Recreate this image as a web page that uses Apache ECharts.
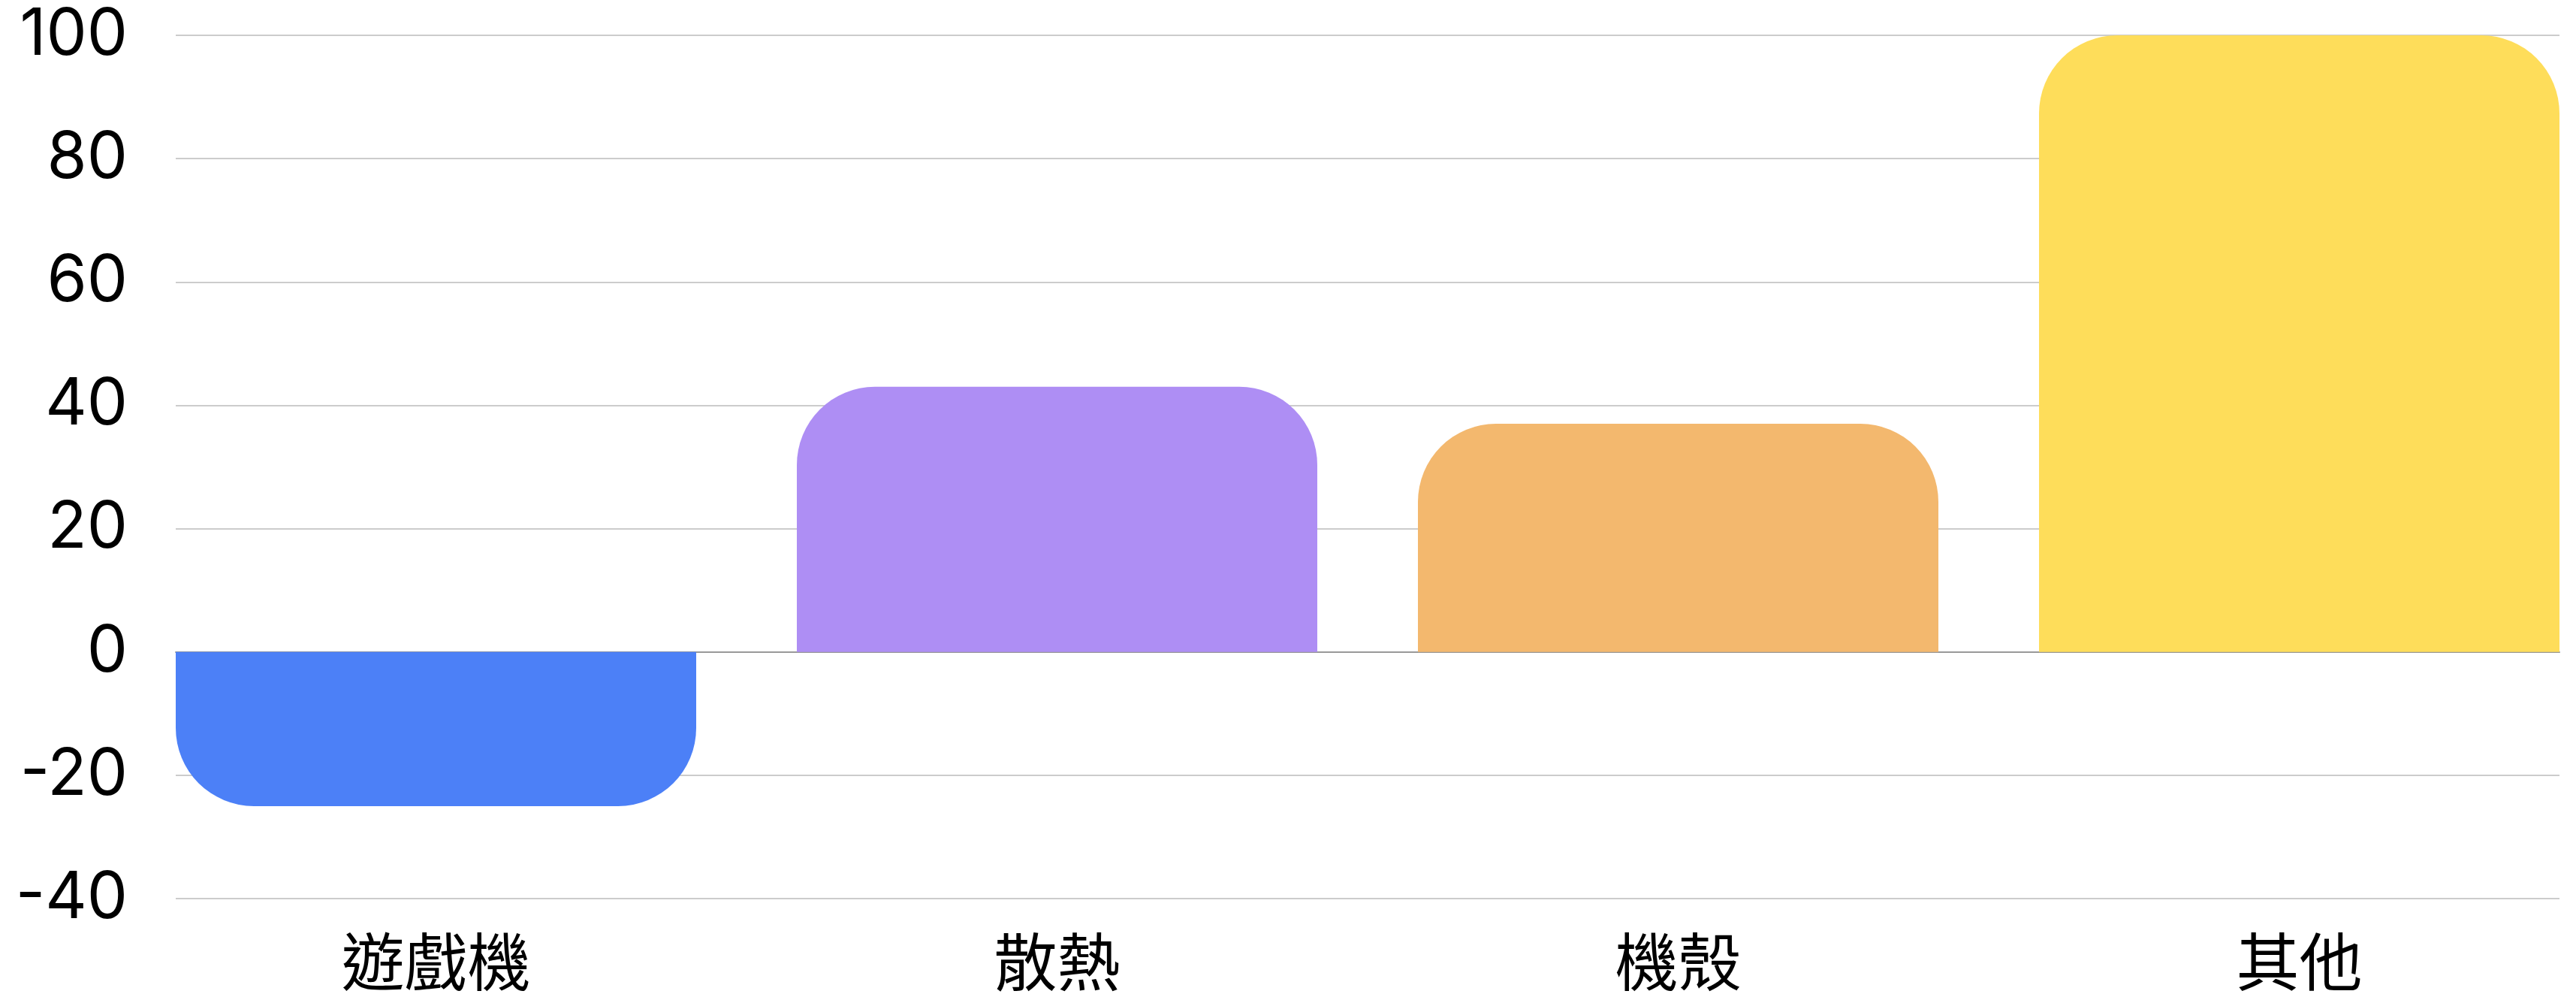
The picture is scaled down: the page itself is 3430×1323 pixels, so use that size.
<!DOCTYPE html>
<html>
<head>
<meta charset="utf-8">
<script src="https://cdn.jsdelivr.net/npm/echarts@6/dist/echarts.min.js"></script>
<style>
html,body{margin:0;padding:0;background:#fff;}
#chart{width:3430px;height:1323px;}
</style>
</head>
<body>
<div id="chart"></div>
<script>
const categories = ['遊戲機', '散熱', '機殼', '其他'];
const values = [-25, 43, 37, 100];
const barColors = ['#4C80F7', '#AE8EF4', '#F3B86E', '#FEDD5A'];
const yTicks = { min: -40, max: 100, interval: 20 };

const R = 104;
const chart = echarts.init(document.getElementById('chart'));
const data = values.map((v, i) => ({
  value: v,
  itemStyle: {
    color: barColors[i],
    borderRadius: v < 0 ? [0, 0, R, R] : [R, R, 0, 0]
  }
}));

chart.setOption({
  animation: false,
  backgroundColor: '#ffffff',
  grid: [
    { left: 234, top: 47, width: 3174, height: 1149, outerBoundsMode: 'none', containLabel: false },
    { left: 167, top: 47, width: 3308, height: 1149, outerBoundsMode: 'none', containLabel: false }
  ],
  xAxis: [
    {
      gridIndex: 0, type: 'category', data: categories,
      axisLine: { show: true, onZero: true, lineStyle: { color: '#999999', width: 2 } },
      axisTick: { show: false }, axisLabel: { show: false }, splitLine: { show: false }
    },
    {
      gridIndex: 1, type: 'category', data: categories, position: 'bottom',
      axisLine: { show: false, onZero: false }, axisTick: { show: false },
      axisLabel: {
        show: true, margin: 42, color: '#000000', fontSize: 84,
        fontFamily: '"Noto Sans CJK TC", "Noto Sans CJK SC", sans-serif'
      },
      splitLine: { show: false }
    }
  ],
  yAxis: [
    {
      gridIndex: 0, type: 'value', min: yTicks.min, max: yTicks.max, interval: yTicks.interval,
      axisLine: { show: false }, axisTick: { show: false },
      axisLabel: { show: true, margin: 64, color: '#000000', fontSize: 86, fontFamily: 'Inter, "Noto Sans", sans-serif' },
      splitLine: { show: true, lineStyle: { color: '#cccccc', width: 2 } }
    },
    {
      gridIndex: 1, type: 'value', min: yTicks.min, max: yTicks.max, interval: yTicks.interval,
      show: false, splitLine: { show: false }
    }
  ],
  series: [
    {
      type: 'bar', xAxisIndex: 1, yAxisIndex: 1,
      barWidth: 693,
      data: data
    }
  ]
});
</script>
</body>
</html>
